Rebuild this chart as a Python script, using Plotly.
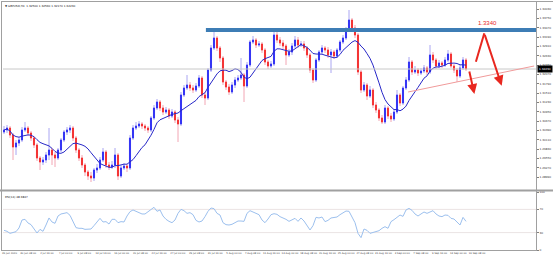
import numpy as np
import pandas as pd
import plotly.graph_objects as go

W, H = 553, 259

symbol_text = "\u25bc GBPUSD,H4  1.32500 1.32560 1.32170 1.32230"
rsi_title = "RSI(14) 48.3847"

open_ = [1.3034, 1.3040, 1.3046, 1.3025, 1.2989, 1.3001, 1.3010, 1.3040, 1.3046, 1.3031,
         1.3016, 1.2995, 1.2956, 1.2944, 1.2950, 1.2965, 1.2980, 1.2965, 1.2956, 1.2980,
         1.3010, 1.3034, 1.3040, 1.3046, 1.3016, 1.2980, 1.2956, 1.2935, 1.2914, 1.2902,
         1.2896, 1.2920, 1.2926, 1.2950, 1.2974, 1.2935, 1.2929, 1.2935, 1.2965, 1.2902,
         1.2926, 1.2932, 1.2926, 1.3016, 1.3046, 1.3052, 1.3058, 1.3052, 1.3046, 1.3040,
         1.3076, 1.3106, 1.3124, 1.3106, 1.3094, 1.3100, 1.3082, 1.3094, 1.3070, 1.3058,
         1.3145, 1.3166, 1.3175, 1.3166, 1.3160, 1.3172, 1.3196, 1.3145, 1.3136, 1.3220,
         1.3286, 1.3316, 1.3286, 1.3256, 1.3184, 1.3169, 1.3154, 1.3175, 1.3190, 1.3196,
         1.3205, 1.3172, 1.3235, 1.3304, 1.3310, 1.3295, 1.3298, 1.3280, 1.3244, 1.3232,
         1.3238, 1.3325, 1.3310, 1.3301, 1.3292, 1.3265, 1.3274, 1.3292, 1.3310, 1.3295,
         1.3298, 1.3286, 1.3265, 1.3220, 1.3190, 1.3250, 1.3274, 1.3286, 1.3280, 1.3265,
         1.3274, 1.3262, 1.3280, 1.3304, 1.3316, 1.3340, 1.3370, 1.3346, 1.3325, 1.3214,
         1.3160, 1.3175, 1.3142, 1.3160, 1.3115, 1.3100, 1.3076, 1.3064, 1.3106, 1.3082,
         1.3073, 1.3094, 1.3145, 1.3121, 1.3166, 1.3190, 1.3244, 1.3214, 1.3220, 1.3211,
         1.3217, 1.3226, 1.3214, 1.3265, 1.3250, 1.3232, 1.3241, 1.3235, 1.3250, 1.3268,
         1.3232, 1.3220, 1.3202, 1.3226, 1.3250]

high = [1.3052, 1.3055, 1.3052, 1.3031, 1.3010, 1.3019, 1.3049, 1.3064, 1.3052, 1.3037,
        1.3022, 1.3001, 1.2962, 1.2959, 1.2974, 1.3046, 1.2986, 1.2974, 1.2986, 1.3016,
        1.3040, 1.3049, 1.3055, 1.3052, 1.3022, 1.2986, 1.2965, 1.2941, 1.2920, 1.2914,
        1.2926, 1.2938, 1.2959, 1.2986, 1.2980, 1.2944, 1.2947, 1.2986, 1.2971, 1.2935,
        1.2941, 1.2938, 1.3025, 1.3055, 1.3064, 1.3067, 1.3064, 1.3058, 1.3052, 1.3082,
        1.3115, 1.3133, 1.3130, 1.3115, 1.3109, 1.3106, 1.3103, 1.3100, 1.3079, 1.3154,
        1.3175, 1.3205, 1.3184, 1.3175, 1.3181, 1.3205, 1.3202, 1.3154, 1.3226, 1.3295,
        1.3340, 1.3322, 1.3292, 1.3262, 1.3190, 1.3178, 1.3184, 1.3199, 1.3205, 1.3256,
        1.3211, 1.3244, 1.3310, 1.3322, 1.3316, 1.3307, 1.3304, 1.3286, 1.3250, 1.3247,
        1.3340, 1.3334, 1.3319, 1.3310, 1.3298, 1.3283, 1.3301, 1.3322, 1.3319, 1.3307,
        1.3307, 1.3292, 1.3271, 1.3226, 1.3256, 1.3280, 1.3295, 1.3292, 1.3289, 1.3283,
        1.3280, 1.3286, 1.3310, 1.3325, 1.3349, 1.3400, 1.3376, 1.3355, 1.3331, 1.3220,
        1.3184, 1.3181, 1.3172, 1.3166, 1.3124, 1.3106, 1.3085, 1.3115, 1.3112, 1.3091,
        1.3103, 1.3160, 1.3151, 1.3172, 1.3199, 1.3259, 1.3250, 1.3232, 1.3226, 1.3226,
        1.3235, 1.3232, 1.3295, 1.3274, 1.3256, 1.3250, 1.3247, 1.3259, 1.3280, 1.3274,
        1.3238, 1.3226, 1.3235, 1.3259, 1.3256]

low = [1.3028, 1.3031, 1.3016, 1.2950, 1.2965, 1.2992, 1.3004, 1.3034, 1.3022, 1.3007,
       1.2986, 1.2947, 1.2920, 1.2935, 1.2941, 1.2950, 1.2935, 1.2929, 1.2950, 1.2974,
       1.3004, 1.3025, 1.3031, 1.3007, 1.2971, 1.2947, 1.2926, 1.2902, 1.2890, 1.2884,
       1.2887, 1.2911, 1.2920, 1.2944, 1.2926, 1.2920, 1.2923, 1.2926, 1.2890, 1.2896,
       1.2920, 1.2914, 1.2920, 1.3010, 1.3040, 1.3046, 1.3043, 1.3037, 1.3031, 1.3034,
       1.3070, 1.3100, 1.3097, 1.3085, 1.3088, 1.3073, 1.3076, 1.3061, 1.3004, 1.3052,
       1.3139, 1.3160, 1.3157, 1.3151, 1.3154, 1.3166, 1.3136, 1.3115, 1.3130, 1.3214,
       1.3280, 1.3277, 1.3244, 1.3175, 1.3160, 1.3145, 1.3148, 1.3166, 1.3184, 1.3190,
       1.3124, 1.3166, 1.3229, 1.3298, 1.3286, 1.3289, 1.3271, 1.3235, 1.3223, 1.3226,
       1.3232, 1.3301, 1.3292, 1.3283, 1.3235, 1.3259, 1.3265, 1.3286, 1.3286, 1.3289,
       1.3277, 1.3256, 1.3211, 1.3181, 1.3184, 1.3244, 1.3268, 1.3271, 1.3256, 1.3211,
       1.3253, 1.3256, 1.3274, 1.3298, 1.3310, 1.3334, 1.3337, 1.3316, 1.3205, 1.3151,
       1.3154, 1.3130, 1.3136, 1.3106, 1.3091, 1.3067, 1.3058, 1.3058, 1.3073, 1.3064,
       1.3067, 1.3088, 1.3112, 1.3115, 1.3160, 1.3184, 1.3205, 1.3208, 1.3202, 1.3205,
       1.3211, 1.3205, 1.3208, 1.3241, 1.3223, 1.3226, 1.3226, 1.3229, 1.3244, 1.3226,
       1.3211, 1.3184, 1.3196, 1.3220, 1.3217]

close = [1.3040, 1.3046, 1.3025, 1.2989, 1.3001, 1.3010, 1.3040, 1.3046, 1.3031, 1.3016,
         1.2995, 1.2956, 1.2944, 1.2950, 1.2965, 1.2980, 1.2965, 1.2956, 1.2980, 1.3010,
         1.3034, 1.3040, 1.3046, 1.3016, 1.2980, 1.2956, 1.2935, 1.2914, 1.2902, 1.2896,
         1.2920, 1.2926, 1.2950, 1.2974, 1.2935, 1.2929, 1.2935, 1.2965, 1.2902, 1.2926,
         1.2932, 1.2926, 1.3016, 1.3046, 1.3052, 1.3058, 1.3052, 1.3046, 1.3040, 1.3076,
         1.3106, 1.3124, 1.3106, 1.3094, 1.3100, 1.3082, 1.3094, 1.3070, 1.3058, 1.3145,
         1.3166, 1.3175, 1.3166, 1.3160, 1.3172, 1.3196, 1.3145, 1.3136, 1.3220, 1.3286,
         1.3316, 1.3286, 1.3256, 1.3184, 1.3169, 1.3154, 1.3175, 1.3190, 1.3196, 1.3205,
         1.3172, 1.3235, 1.3304, 1.3310, 1.3295, 1.3298, 1.3280, 1.3244, 1.3232, 1.3238,
         1.3325, 1.3310, 1.3301, 1.3292, 1.3265, 1.3274, 1.3292, 1.3310, 1.3295, 1.3298,
         1.3286, 1.3265, 1.3220, 1.3190, 1.3250, 1.3274, 1.3286, 1.3280, 1.3265, 1.3274,
         1.3262, 1.3280, 1.3304, 1.3316, 1.3340, 1.3370, 1.3346, 1.3325, 1.3214, 1.3160,
         1.3175, 1.3142, 1.3160, 1.3115, 1.3100, 1.3076, 1.3064, 1.3106, 1.3082, 1.3073,
         1.3094, 1.3145, 1.3121, 1.3166, 1.3190, 1.3244, 1.3214, 1.3220, 1.3211, 1.3217,
         1.3226, 1.3214, 1.3265, 1.3250, 1.3232, 1.3241, 1.3235, 1.3250, 1.3268, 1.3232,
         1.3220, 1.3202, 1.3226, 1.3250, 1.3223]

rsi = [33.9, 32.2, 28.7, 29.9, 31.6, 38.0, 51.7, 52.9, 46.6, 43.7,
       35.6, 29.3, 35.6, 32.2, 43.1, 55.2, 48.3, 46.0, 58.6, 62.1,
       63.2, 64.4, 59.8, 48.9, 38.5, 37.4, 37.4, 35.6, 36.2, 36.2,
       42.0, 49.4, 54.6, 48.3, 48.9, 44.8, 52.9, 52.9, 47.1, 48.9,
       48.3, 58.6, 66.1, 69.0, 66.7, 64.9, 62.1, 62.1, 65.5, 69.5,
       73.6, 66.7, 69.0, 58.6, 52.9, 49.4, 47.1, 51.7, 63.2, 70.1,
       67.8, 63.2, 64.4, 60.9, 51.1, 48.3, 50.0, 57.5, 66.7, 72.4,
       71.3, 63.2, 60.3, 47.1, 43.7, 43.1, 44.3, 47.1, 50.0, 50.0,
       49.4, 63.2, 67.8, 65.5, 62.6, 60.9, 51.7, 47.1, 53.4, 60.9,
       62.6, 61.5, 57.5, 55.7, 52.9, 49.4, 51.7, 54.6, 49.4, 55.2,
       50.0, 42.0, 34.5, 42.0, 56.3, 55.2, 56.9, 48.9, 51.1, 55.2,
       56.3, 56.9, 60.9, 64.4, 67.2, 66.7, 56.3, 47.1, 28.7, 21.3,
       36.2, 33.9, 28.7, 29.9, 31.0, 33.3, 37.4, 40.2, 37.4, 48.9,
       52.3, 55.7, 60.3, 58.0, 69.0, 71.8, 68.4, 62.1, 58.6, 62.1,
       65.5, 63.2, 66.1, 67.8, 62.1, 58.6, 57.5, 60.3, 59.8, 54.6,
       53.4, 48.3, 43.1, 56.3, 49.4]

time_labels = ["26 Jun 2020", "30 Jun 08:00", "2 Jul 16:00", "7 Jul 00:00", "9 Jul 08:00",
               "13 Jul 16:00", "16 Jul 00:00", "20 Jul 08:00", "22 Jul 16:00", "27 Jul 00:00",
               "29 Jul 08:00", "31 Jul 16:00", "5 Aug 00:00", "7 Aug 08:00", "11 Aug 16:00",
               "14 Aug 00:00", "18 Aug 08:00", "20 Aug 16:00", "25 Aug 00:00", "27 Aug 08:00",
               "31 Aug 16:00", "3 Sep 00:00", "7 Sep 08:00", "9 Sep 16:00", "14 Sep 00:00",
               "16 Sep 08:00"]

price_ticks = [1.3403, 1.3375, 1.3347, 1.3319, 1.3291, 1.3263, 1.3235, 1.3207, 1.3179, 1.3151,
               1.3123, 1.3095, 1.3067, 1.3039, 1.3011, 1.2983, 1.2955, 1.2927, 1.2899]
rsi_ticks = [0, 30, 70, 100]
rsi_levels = [30, 70]

resistance_level = 1.3340
resistance_label = "1.3340"
resistance_start = 67.3

trend_x = [134.7, 176.7]
trend_y = [1.3154, 1.3232]
scenario_down_x = [155.0, 156.8]
scenario_down_y = [1.3220, 1.3148]
scenario_up_x = [157.3, 160.1, 165.9]
scenario_up_y = [1.3245, 1.3330, 1.3173]

ma_period = 10

# ---------------------------------------------------------------- geometry
def px(x):
    return x / W


def py(y):
    return 1 - y / H


n = len(close)
idx = np.arange(n)
x_lo, x_hi = -1 / 3, 532 / 3
y_lo, y_hi = 1.2863, 1.3421

o = np.array(open_)
c = np.array(close)
body_hi = np.maximum(o, c)
body_lo = np.minimum(o, c)
ma = pd.Series(close).rolling(ma_period, min_periods=1).mean()

bull, bear = "#3434f4", "#f43434"
wick_bull, wick_bear = "#aaa6f2", "#f2a6b4"
txt = "#3a3a3a"
frame = "#a0a0a0"
FONT = "DejaVu Sans"

fig = go.Figure()

# wicks
fig.add_trace(go.Candlestick(
    x=idx, open=open_, high=high, low=low, close=close,
    increasing=dict(line=dict(color=wick_bull, width=1), fillcolor=wick_bull),
    decreasing=dict(line=dict(color=wick_bear, width=1), fillcolor=wick_bear),
    whiskerwidth=0, hoverinfo="skip", showlegend=False, xaxis="x", yaxis="y"))
# bodies
fig.add_trace(go.Candlestick(
    x=idx, open=open_, high=body_hi, low=body_lo, close=close,
    increasing=dict(line=dict(color=bull, width=1), fillcolor=bull),
    decreasing=dict(line=dict(color=bear, width=1), fillcolor=bear),
    whiskerwidth=0, hoverinfo="skip", showlegend=False, xaxis="x", yaxis="y"))

# moving average
fig.add_trace(go.Scatter(x=idx, y=ma, mode="lines", line=dict(color="#2828c8", width=1),
                         hoverinfo="skip", showlegend=False, xaxis="x", yaxis="y"))

# current price line
fig.add_trace(go.Scatter(x=[x_lo, x_hi], y=[close[-1], close[-1]], mode="lines",
                         line=dict(color="#c8c8c8", width=1), hoverinfo="skip",
                         showlegend=False, xaxis="x", yaxis="y"))

# trend line
fig.add_trace(go.Scatter(x=trend_x, y=trend_y, mode="lines",
                         line=dict(color="#f09a9a", width=1), hoverinfo="skip",
                         showlegend=False, xaxis="x", yaxis="y"))

# scenario arrows (shafts)
red = "#e8271f"
fig.add_trace(go.Scatter(x=scenario_up_x[:2], y=scenario_up_y[:2], mode="lines",
                         line=dict(color=red, width=2), hoverinfo="skip",
                         showlegend=False, xaxis="x", yaxis="y"))

# RSI
for lv in rsi_levels:
    fig.add_trace(go.Scatter(x=[x_lo, x_hi], y=[lv, lv], mode="lines",
                             line=dict(color="#ebe4e4", width=1), hoverinfo="skip",
                             showlegend=False, xaxis="x2", yaxis="y2"))
fig.add_trace(go.Scatter(x=idx, y=rsi, mode="lines", line=dict(color="#9cc0ee", width=1),
                         hoverinfo="skip", showlegend=False, xaxis="x2", yaxis="y2"))

tick_step = 18.7 / 3
time_pos = [(9.5 - 4) / 3 + tick_step * i for i in range(len(time_labels))]

x_dom = [px(3), px(536)]
fig.update_layout(
    width=W, height=H, margin=dict(l=0, r=0, t=0, b=0, pad=0),
    paper_bgcolor="white", plot_bgcolor="white", template="none",
    font=dict(family=FONT, color=txt, size=3),
    showlegend=False, boxgap=0.5,
    xaxis=dict(domain=x_dom, range=[x_lo, x_hi], anchor="y", showticklabels=False,
               showgrid=False, zeroline=False, showline=False, ticks="",
               rangeslider=dict(visible=False), automargin=False, fixedrange=True),
    yaxis=dict(domain=[py(189), py(3)], range=[y_lo, y_hi], anchor="x", side="right",
               tickvals=price_ticks, ticktext=[f"{v:.5f}" for v in price_ticks],
               tickfont=dict(size=2.8, color=txt, family=FONT), ticks="outside", ticklen=2,
               tickcolor="#808080", showgrid=False, zeroline=False, showline=False,
               automargin=False, fixedrange=True),
    xaxis2=dict(domain=x_dom, range=[x_lo, x_hi], anchor="y2", tickvals=time_pos,
                ticktext=time_labels, tickfont=dict(size=2.5, color=txt, family=FONT),
                ticks="", showgrid=False, zeroline=False, showline=False,
                automargin=False, fixedrange=True, tickangle=0),
    yaxis2=dict(domain=[py(250), py(192)], range=[0, 100], anchor="x2", side="right",
                tickvals=rsi_ticks, ticktext=[str(v) for v in rsi_ticks],
                tickfont=dict(size=2.8, color=txt, family=FONT), ticks="outside", ticklen=2,
                tickcolor="#808080", showgrid=False, zeroline=False, showline=False,
                automargin=False, fixedrange=True),
)

shapes = [
    # resistance band
    dict(type="rect", xref="x", yref="y", x0=resistance_start, x1=x_hi,
         y0=resistance_level - 0.0006, y1=resistance_level + 0.0006,
         fillcolor="#3d7db5", line=dict(width=0), layer="above"),
    # frame
    dict(type="line", xref="paper", yref="paper", x0=px(1.5), x1=px(1.5), y0=py(1), y1=py(251),
         line=dict(color=frame, width=1)),
    dict(type="line", xref="paper", yref="paper", x0=px(1), x1=1, y0=py(1.5), y1=py(1.5),
         line=dict(color=frame, width=1)),
    dict(type="line", xref="paper", yref="paper", x0=px(536.5), x1=px(536.5), y0=py(1), y1=py(251),
         line=dict(color=frame, width=1)),
    dict(type="line", xref="paper", yref="paper", x0=0, x1=1, y0=py(190.5), y1=py(190.5),
         line=dict(color=frame, width=2)),
    dict(type="line", xref="paper", yref="paper", x0=px(1), x1=px(537), y0=py(250.5), y1=py(250.5),
         line=dict(color=frame, width=1)),
]
fig.update_layout(shapes=shapes)

annotations = [
    dict(xref="paper", yref="paper", x=px(3), y=py(2.5), text=symbol_text, showarrow=False,
         xanchor="left", yanchor="top", font=dict(size=2.8, color="#202020", family=FONT)),
    dict(xref="paper", yref="paper", x=px(3), y=py(192.5), text=rsi_title, showarrow=False,
         xanchor="left", yanchor="top", font=dict(size=2.8, color="#202020", family=FONT)),
    # current price tag
    dict(xref="paper", yref="y", x=px(537), y=close[-1], text=f"{close[-1]:.5f}",
         showarrow=False, xanchor="left", yanchor="middle", bgcolor="#000000",
         font=dict(size=2.8, color="white", family=FONT), borderpad=1),
    # resistance label
    dict(xref="x", yref="y", x=scenario_up_x[1] + 1.2, y=resistance_level + 0.0021,
         text=resistance_label, showarrow=False, xanchor="center", yanchor="middle",
         font=dict(size=6, color=red, family="Liberation Sans")),
    # arrows
    dict(xref="x", yref="y", axref="x", ayref="y", x=scenario_down_x[1], y=scenario_down_y[1],
         ax=scenario_down_x[0], ay=scenario_down_y[0], text="", showarrow=True,
         arrowhead=2, arrowsize=1, arrowwidth=2, arrowcolor=red),
    dict(xref="x", yref="y", axref="x", ayref="y", x=scenario_up_x[2], y=scenario_up_y[2],
         ax=scenario_up_x[1], ay=scenario_up_y[1], text="", showarrow=True,
         arrowhead=2, arrowsize=1, arrowwidth=2, arrowcolor=red),
]
fig.update_layout(annotations=annotations)

fig.write_html("out.html")
